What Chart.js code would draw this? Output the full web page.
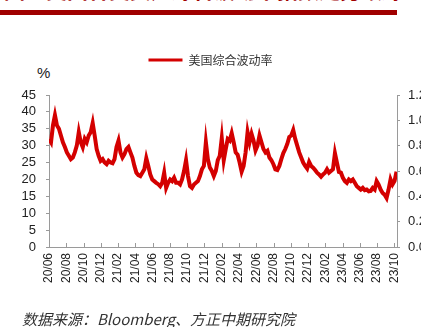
<!DOCTYPE html>
<html>
<head>
<meta charset="utf-8">
<script src="https://cdn.jsdelivr.net/npm/chart.js@4/dist/chart.umd.min.js"></script>
<style>
    body { margin: 0; width: 421px; height: 327px; background: #fff; overflow: hidden; position: relative;
           font-family: 'Liberation Sans', 'Noto Sans CJK SC', sans-serif; }
    #title { position: absolute; left: 4px; top: -22px; font-size: 21px; font-weight: bold; color: #a00000;
             white-space: nowrap; line-height: 22px; font-family: 'Noto Sans CJK SC', sans-serif; }
    #bar { position: absolute; left: 0; top: 10px; width: 397px; height: 5px; background: #a00000; }
    #unit { position: absolute; left: 37px; top: 64px; font-size: 15px; color: #222; }
    #source { position: absolute; left: 22px; top: 308px; font-size: 15px; font-style: italic; color: #333;
              font-family: 'Noto Sans CJK SC', sans-serif; white-space: nowrap; }
    #wrap { position: absolute; left: 0; top: 0; }
</style>
</head>
<body>
<div id="title">图：美国各类资产综合波动率指数走势跟踪</div>
<div id="bar"></div>
<div id="unit">%</div>
<div id="wrap"><canvas id="chart" width="421" height="327"></canvas></div>
<div id="source">数据来源：Bloomberg、方正中期研究院</div>
<script>
// weekly readings from 2020-06-01
const seriesName = '美国综合波动率';
const vol = [
    32, 31, 36, 39, 36,
    35, 33, 31, 29.6,
    28, 27, 26, 26.5,
    28, 30, 34, 31, 29.5,
    32, 31, 33, 34,
    36.7, 33, 29, 27,
    25.5, 26, 25, 24.5, 25.5,
    25, 24.8, 26, 29.6,
    31.5, 28, 26.5, 27.5,
    29, 29.6, 28, 26.5,
    24, 22, 21.3, 21, 22,
    23, 26.3, 24, 21.5,
    20, 19.5, 19, 18.6, 18,
    19, 22, 17.5, 19,
    20, 19.5, 20.5, 19,
    19, 18.5, 20, 22.5, 25.7,
    21, 18, 17.5, 18.5,
    19, 19.5, 21, 23,
    24, 31, 26, 23.5, 22.5,
    21, 22.5, 25.7, 27,
    32.2, 25.7, 29, 32,
    31.5, 33.7, 31, 28, 27.3,
    25, 22.3, 24, 28,
    34, 31, 33.5, 31.5,
    28.6, 30, 33, 31, 29,
    28, 28.5, 26.5, 25.7,
    24.5, 23, 22.8, 24, 26,
    27.8, 29, 30.5, 32.6,
    33, 34.6, 32, 30,
    28, 26.5, 25, 24, 23.2,
    25.2, 24, 23.5, 22.8,
    22, 21.5, 20.8, 21.5,
    22, 23, 22, 22.5, 23,
    27.8, 25, 22.2, 22,
    20.5, 19.5, 19, 20,
    19.5, 20, 19, 18,
    17.5, 17, 17.5, 16.8, 17,
    16.5, 16.6, 17.5, 17,
    19.5, 18.5, 17, 16, 15.5,
    14.5, 17, 20, 18.5,
    19.5, 22.3
];
const tickLabels = ['20/06', '20/08', '20/10', '20/12', '21/02', '21/04', '21/06', '21/08', '21/10', '21/12',
    '22/02', '22/04', '22/06', '22/08', '22/10', '22/12', '23/02', '23/04', '23/06', '23/08', '23/10'];
const leftTicks = [0, 45, 5];
const rightTicks = [0, 1.2, 0.2];

const MONTHS_PER_WEEK = 7 / 30.44;
const points = vol.map((v, i) => ({ x: i * MONTHS_PER_WEEK, y: v }));
const axisColor = '#9a9a9a';
const textColor = '#222';
const font = { family: "'Liberation Sans', Arial, sans-serif", size: 12 };

// short x ticks pointing up into the plot
const innerTicks = {
    id: 'innerTicks',
    afterDraw(chart) {
        const x = chart.scales.x;
        const ctx = chart.ctx;
        const bottom = chart.chartArea.bottom;
        ctx.save();
        ctx.strokeStyle = axisColor;
        ctx.lineWidth = 1;
        x.ticks.forEach(t => {
            const px = Math.round(x.getPixelForValue(t.value)) + 0.5;
            ctx.beginPath();
            ctx.moveTo(px, bottom);
            ctx.lineTo(px, bottom - 4);
            ctx.stroke();
        });
        ctx.restore();
    }
};

const legendHeight = {
    id: 'legendHeight',
    beforeInit(chart) {
        const fit = chart.legend.fit;
        chart.legend.fit = function() {
            fit.bind(chart.legend)();
            this.height = 45;
        };
    }
};

new Chart(document.getElementById('chart').getContext('2d'), {
    type: 'line',
    data: {
        datasets: [{
            label: seriesName,
            data: points,
            borderColor: '#d40000',
            backgroundColor: '#d40000',
            borderWidth: 4,
            pointRadius: 0,
            tension: 0,
            yAxisID: 'y'
        }]
    },
    options: {
        responsive: false,
        animation: false,
        devicePixelRatio: 1,
        layout: { padding: { top: 50, left: 0, right: 0, bottom: 0 } },
        plugins: {
            legend: {
                position: 'top',
                labels: {
                    boxWidth: 34,
                    boxHeight: 3,
                    padding: 4,
                    color: '#333',
                    font: { family: "'Noto Sans CJK SC', sans-serif", size: 12 },
                    generateLabels: chart => Chart.defaults.plugins.legend.labels.generateLabels(chart)
                        .map(l => ({ ...l, lineWidth: 0 }))
                }
            },
            tooltip: { enabled: false }
        },
        scales: {
            x: {
                type: 'linear',
                min: 0,
                max: 40.3,
                afterFit: s => { s.height = 80; },
                border: { color: axisColor },
                grid: { display: false, drawTicks: false },
                ticks: {
                    stepSize: 2,
                    includeBounds: false,
                    autoSkip: false,
                    minRotation: 90,
                    maxRotation: 90,
                    padding: 6,
                    color: textColor,
                    font: font,
                    callback: v => tickLabels[Math.round(v / 2)]
                }
            },
            y: {
                position: 'left',
                min: leftTicks[0],
                max: leftTicks[1],
                afterFit: s => { s.width = 49; },
                border: { color: axisColor },
                grid: { drawOnChartArea: false, tickLength: 3, color: axisColor },
                ticks: { stepSize: leftTicks[2], autoSkip: false, padding: 10, color: textColor,
                         font: { ...font, size: 13 } }
            },
            y1: {
                position: 'right',
                min: rightTicks[0],
                max: rightTicks[1],
                afterFit: s => { s.width = 24; },
                border: { color: axisColor },
                grid: { drawOnChartArea: false, tickLength: 3, color: axisColor },
                ticks: { stepSize: rightTicks[2], autoSkip: false, padding: 8, color: textColor,
                         font: { ...font, size: 13 }, callback: v => v.toFixed(1) }
            }
        }
    },
    plugins: [innerTicks, legendHeight]
});
</script>
</body>
</html>
